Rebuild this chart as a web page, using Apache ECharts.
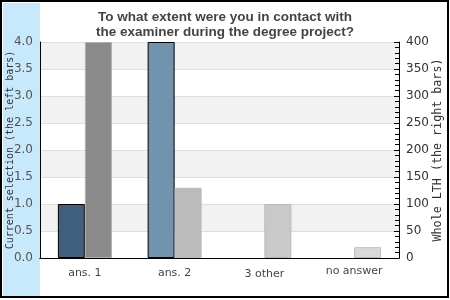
<!DOCTYPE html>
<html><head><meta charset="utf-8">
<script src="https://cdn.jsdelivr.net/npm/echarts@6/dist/echarts.min.js"></script>
<style>html,body{margin:0;padding:0;background:#fff}#c{width:450px;height:300px}</style>
</head><body><div id="c"></div>
<script>
const titleText = 'To what extent were you in contact with\nthe examiner during the degree project?';
const categories = ['ans. 1', 'ans. 2', '3 other', 'no answer'];
const leftValues = [1, 4, 0, 0];
const rightValues = [400, 130, 100, 20];
const leftTicks = [0, 0.5, 1, 1.5, 2, 2.5, 3, 3.5, 4];
const rightTicks = [0, 50, 100, 150, 200, 250, 300, 350, 400];
const leftName = 'Current selection (the left bars)';
const rightName = 'Whole LTH (the right bars)';

const leftColors = ['#3f5f7c', '#7093ae', '#3f5f7c', '#3f5f7c'];
const rightColors = ['#8a8a8a', '#bbbbbb', '#c9c9c9', '#d9d9d9'];
const rightBorders = ['#b0b0b0', '#bbbbbb', '#b8b8b8', '#bdbdbd'];

const chart = echarts.init(document.getElementById('c'), null, {renderer: 'canvas'});
const mono = 'DejaVu Sans Mono';
const sans = 'DejaVu Sans';
chart.setOption({
  animation: false,
  backgroundColor: '#fff',
  graphic: [
    {type: 'rect', z: -10, shape: {x: 3, y: 3, width: 37, height: 294}, style: {fill: '#c8e8fc'}},
    {type: 'rect', z: 100, shape: {x: 1, y: 1, width: 447, height: 296}, style: {fill: null, stroke: '#000', lineWidth: 2}}
  ],
  title: {
    text: titleText, left: 'center', top: 5,
    textStyle: {fontFamily: 'Liberation Sans', fontWeight: 'bold', fontSize: 13.5, color: '#444', lineHeight: 15}
  },
  grid: {left: 40, right: 51, top: 42, bottom: 42, containLabel: false, outerBoundsMode: 'none'},
  xAxis: [{
    type: 'category', data: categories, position: 'bottom',
    axisLine: {show: true, lineStyle: {color: '#000', width: 1}},
    axisTick: {show: false},
    axisLabel: {
      interval: 0, margin: 10, fontFamily: sans, fontSize: 11, color: '#444',
      formatter: v => v === 'no answer' ? '{up|' + v + '}' : (v === '3 other' ? '{down|' + v + '}' : v),
      rich: {
        up: {fontFamily: sans, fontSize: 11, color: '#444', lineHeight: 6},
        down: {fontFamily: sans, fontSize: 11, color: '#444', lineHeight: 12}
      }
    }
  }, {
    type: 'category', data: categories, position: 'top',
    axisLine: {show: true, lineStyle: {color: '#000', width: 1}},
    axisTick: {show: false}, axisLabel: {show: false}
  }],
  yAxis: [{
    type: 'value', min: leftTicks[0], max: leftTicks[leftTicks.length - 1], interval: 0.5,
    position: 'left',
    name: leftName, nameLocation: 'middle', nameGap: 25, nameRotate: 90, nameMoveOverlap: false,
    nameTextStyle: {fontFamily: mono, fontSize: 10, color: '#333'},
    axisLine: {show: true, lineStyle: {color: '#000'}},
    axisTick: {show: false},
    axisLabel: {margin: 7, fontFamily: sans, fontSize: 12, color: '#555', formatter: v => v.toFixed(1)},
    splitLine: {show: true, lineStyle: {color: '#dedede'}},
    splitArea: {show: true, areaStyle: {color: ['#ffffff', '#f2f2f2']}}
  }, {
    type: 'value', min: rightTicks[0], max: rightTicks[rightTicks.length - 1], interval: 50,
    position: 'right',
    name: rightName, nameLocation: 'middle', nameGap: 33, nameRotate: 90, nameMoveOverlap: false,
    nameTextStyle: {fontFamily: mono, fontSize: 11.7, color: '#333'},
    axisLine: {show: true, lineStyle: {color: '#000'}},
    axisTick: {show: true, inside: true, length: 5, lineStyle: {color: '#000'}},
    minorTick: {show: true, splitNumber: 5, length: 4, lineStyle: {color: '#000'}},
    axisLabel: {margin: 7, fontFamily: sans, fontSize: 12, color: '#333'},
    splitLine: {show: false}
  }],
  series: [{
    type: 'bar', xAxisIndex: 0, yAxisIndex: 0, barWidth: 27, barGap: '0%',
    data: leftValues.map((v, i) => ({value: v, itemStyle: {color: leftColors[i], borderColor: '#000', borderWidth: v ? 1 : 0}}))
  }, {
    type: 'bar', xAxisIndex: 0, yAxisIndex: 1, barWidth: 27, barGap: '0%',
    data: rightValues.map((v, i) => ({value: v, itemStyle: {color: rightColors[i], borderColor: rightBorders[i], borderWidth: 1}}))
  }]
});
</script></body></html>
